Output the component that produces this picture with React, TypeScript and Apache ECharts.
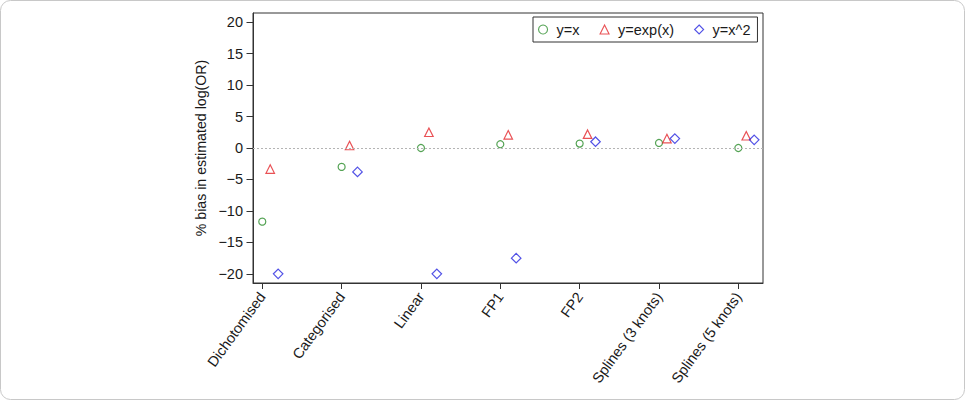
import React, { useEffect, useRef } from "react";
import * as echarts from "echarts";

const categories = [
  "Dichotomised",
  "Categorised",
  "Linear",
  "FP1",
  "FP2",
  "Splines (3 knots)",
  "Splines (5 knots)",
];
const seriesNames = ["y=x", "y=exp(x)", "y=x^2"];
const yLinear = [-11.7, -3.0, 0.0, 0.6, 0.7, 0.8, 0.0];
const yExp = [-3.35, 0.4, 2.5, 2.1, 2.2, 1.5, 1.95];
const ySquare = [-20.0, -3.8, -20.0, -17.5, 1.0, 1.5, 1.3];
const yTicks = [-20, -15, -10, -5, 0, 5, 10, 15, 20];

const FONT = "'Liberation Sans', Arial, Helvetica, sans-serif";

export default function App() {
  const ref = useRef<HTMLDivElement>(null);
  useEffect(() => {
    if (!ref.current) return;
    const chart = echarts.init(ref.current, undefined, { renderer: "svg" });
    const offsets = [0, 0.1, 0.2];
    const values = [yLinear, yExp, ySquare];
    const symbols = ["circle", "triangle", "diamond"];
    const sizes = [7, 8.5, 9.5];
    const colors = ["#2b8c2b", "#e4262b", "#2626e0"];
    const series = values.map((vals, s) => ({
      type: "scatter",
      name: seriesNames[s],
      symbol: symbols[s],
      symbolSize: sizes[s],
      data: vals.map((v, i) => [i + 1 + offsets[s], v]),
      itemStyle: { color: "rgba(0,0,0,0)", borderColor: colors[s], borderWidth: 1.2 },
      ...(s === 0
        ? {
            markLine: {
              silent: true,
              symbol: "none",
              label: { show: false },
              lineStyle: { color: "#b4b4b4", type: [2, 2], width: 1 },
              data: [{ yAxis: 0 }],
            },
          }
        : {}),
    }));
    chart.setOption({
      animation: false,
      textStyle: { fontFamily: FONT },
      graphic: [
        {
          type: "rect",
          shape: { x: 0.5, y: 0.5, width: 964, height: 399, r: 10 },
          style: { fill: "none", stroke: "#c8c8c8", lineWidth: 1 },
          silent: true,
        },
      ],
      grid: {
        left: 253,
        right: 202,
        top: 13,
        bottom: 117,
        show: true,
        borderColor: "#333",
        borderWidth: 1,
        backgroundColor: "transparent",
      },
      legend: {
        left: 533,
        top: 17,
        orient: "horizontal",
        backgroundColor: "#fff",
        borderColor: "#333",
        borderWidth: 1,
        borderRadius: 0,
        padding: [5, 7, 5, 5],
        itemGap: 20,
        itemWidth: 9,
        itemHeight: 9,
        itemStyle: { borderWidth: 1.1 },
        textStyle: { fontSize: 14.5, color: "#1a1a1a", fontFamily: FONT, padding: [0, 0, 0, 4] },
        data: seriesNames,
      },
      xAxis: {
        type: "value",
        min: 0.883,
        max: 7.311,
        splitLine: { show: false },
        axisLine: { show: true, onZero: false, lineStyle: { color: "#333" } },
        axisTick: {
          show: true,
          length: 6,
          lineStyle: { color: "#333" },
          customValues: categories.map((_, i) => i + 1),
        },
        axisLabel: {
          rotate: 54,
          fontSize: 14.5,
          color: "#1a1a1a",
          margin: 11,
          customValues: categories.map((_, i) => i + 1),
          formatter: (v: number) => categories[Math.round(v) - 1] ?? "",
        },
      },
      yAxis: {
        type: "value",
        min: -21.45,
        max: 21.45,
        name: "% bias in estimated log(OR)",
        nameLocation: "middle",
        nameGap: 38,
        nameRotate: 90,
        nameTextStyle: { fontSize: 14.2, color: "#1a1a1a" },
        splitLine: { show: false },
        axisLine: { show: true, lineStyle: { color: "#333" } },
        axisTick: { show: true, length: 6.5, lineStyle: { color: "#333" }, customValues: yTicks },
        axisLabel: {
          fontSize: 14.5,
          color: "#1a1a1a",
          margin: 10,
          customValues: yTicks,
          formatter: (v: number) => (v < 0 ? "\u2212" + Math.abs(v) : String(v)),
        },
      },
      series,
    });
    return () => chart.dispose();
  }, []);
  return (
    <div
      ref={ref}
      style={{ position: "absolute", left: 0, top: 0, width: 965, height: 400, background: "#fff" }}
    />
  );
}
